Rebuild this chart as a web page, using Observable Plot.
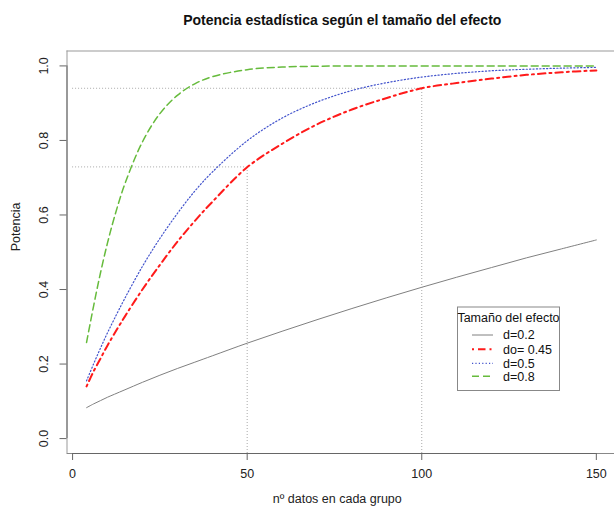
<!DOCTYPE html>
<html><head><meta charset="utf-8">
<script src="https://cdn.jsdelivr.net/npm/d3@7"></script>
<script src="https://cdn.jsdelivr.net/npm/@observablehq/plot@0.6"></script>
<style>
body{margin:0;background:#fff;}
#wrap{position:relative;width:614px;height:506px;overflow:hidden;font-family:"Liberation Sans",Arial,Helvetica,sans-serif;}
#legend{position:absolute;left:0;top:0;}
</style></head><body><div id="wrap"></div>
<script>
// ---- data ----
const nDatos = [4,6,8,10,12,15,20,25,30,35,40,50,60,70,80,90,100,110,120,130,140,150];
const potD02  = [0.083,0.093,0.102,0.111,0.119,0.131,0.151,0.170,0.188,0.205,0.222,0.256,0.288,0.319,0.349,0.378,0.406,0.433,0.459,0.485,0.509,0.533];
const potD045 = [0.140,0.180,0.215,0.250,0.282,0.328,0.400,0.466,0.528,0.584,0.635,0.728,0.791,0.843,0.883,0.914,0.940,0.954,0.966,0.976,0.983,0.988];
const potD05  = [0.155,0.200,0.243,0.284,0.322,0.377,0.462,0.537,0.604,0.664,0.715,0.799,0.860,0.903,0.934,0.955,0.970,0.980,0.987,0.991,0.994,0.996];
const potD08  = [0.258,0.355,0.445,0.525,0.595,0.684,0.796,0.872,0.921,0.952,0.971,0.990,0.997,0.999,1.000,1.000,1.000,1.000,1.000,1.000,1.000,1.000];
const seriesNames = ["d=0.2","do= 0.45","d=0.5","d=0.8"];
const refN = [50, 100];
const refPot = [0.729, 0.940];
const xTicks = [0, 50, 100, 150];
const yTicks = [0, 0.2, 0.4, 0.6, 0.8, 1.0];
const titleText = "Potencia estadística según el tamaño del efecto";
const xLabel = "nº datos en cada grupo";
const yLabel = "Potencia";
const legendTitle = "Tamaño del efecto";

// ---- styles ----
const styles = [
  {stroke:"#808080", strokeWidth:1, dash:null},
  {stroke:"#ff1a1a", strokeWidth:2, dash:"2,4,7.5,4"},
  {stroke:"#4253cc", strokeWidth:1.2, dash:"1.2,2.2"},
  {stroke:"#66bb3c", strokeWidth:1.5, dash:"7,4"}
];
const allPot = [potD02, potD045, potD05, potD08];
const rows = [];
allPot.forEach((arr, si) => arr.forEach((p, i) => rows.push({serie: seriesNames[si], n: nDatos[i], p})));
const refRows = refN.map((n, i) => ({n, p: refPot[i]}));

const xDomain = [-1.6, 155.2];
const yDomain = [-0.04, 1.04];

const lineMarks = seriesNames.map((s, si) => Plot.line(rows.filter(r => r.serie === s), {
  x: "n", y: "p", curve: "catmull-rom",
  stroke: styles[si].stroke, strokeWidth: styles[si].strokeWidth,
  strokeDasharray: styles[si].dash
}));

const chart = Plot.plot({
  width: 614, height: 506,
  marginLeft: 66.5, marginRight: 0, marginTop: 50.5, marginBottom: 53,
  style: {fontFamily: '"Liberation Sans", Arial, Helvetica, sans-serif', background: "#fff", overflow: "visible"},
  x: {domain: xDomain, axis: null},
  y: {domain: yDomain, axis: null},
  marks: [
    // reference dotted lines
    Plot.ruleY(refRows, {y: "p", x1: 0, x2: "n", stroke: "#aaaaaa", strokeDasharray: "1,2", strokeWidth: 1}),
    Plot.ruleX(refRows, {x: "n", y1: yDomain[0], y2: "p", stroke: "#aaaaaa", strokeDasharray: "1,2", strokeWidth: 1}),
    // box (top, left, bottom)
    Plot.ruleY([yDomain[1]], {stroke: "#999", strokeWidth: 1}),
    Plot.ruleY([yDomain[0]], {stroke: "#888", strokeWidth: 1}),
    Plot.ruleX([xDomain[0]], {stroke: "#999", strokeWidth: 1}),
    // axis lines between first and last tick
    Plot.ruleX([xDomain[0]], {y1: yTicks[0], y2: yTicks[yTicks.length-1], stroke: "#666", strokeWidth: 1}),
    Plot.ruleY([yDomain[0]], {x1: xTicks[0], x2: xTicks[xTicks.length-1], stroke: "#666", strokeWidth: 1}),
    // ticks
    Plot.axisY(yTicks, {tickSize: 7, tickFormat: () => "", stroke: "#666", label: null}),
    Plot.axisX(xTicks, {tickSize: 7, tickFormat: () => "", stroke: "#666", label: null}),
    // tick labels
    Plot.text(yTicks, {y: d => d, text: d => d.toFixed(1), frameAnchor: "left", dx: -23, rotate: -90, textAnchor: "middle", lineAnchor: "middle", fontSize: 12.5, fill: "#222"}),
    Plot.text(xTicks, {x: d => d, text: d => String(d), frameAnchor: "bottom", dy: 20, textAnchor: "middle", lineAnchor: "middle", fontSize: 12.5, fill: "#222"}),
    // curves
    ...lineMarks,
    // titles
    Plot.text([titleText], {frameAnchor: "top", dx: 1.5, dy: -30, fontSize: 14, fontWeight: "bold", fill: "#111", lineAnchor: "middle"}),
    Plot.text([xLabel], {frameAnchor: "bottom", dx: -3.5, dy: 45.5, fontSize: 12.5, fill: "#222", lineAnchor: "middle"}),
    Plot.text([yLabel], {frameAnchor: "left", dx: -51, dy: -1, rotate: -90, fontSize: 12.5, fill: "#222", lineAnchor: "middle"})
  ]
});
const wrap = document.getElementById("wrap");
wrap.appendChild(chart);

// ---- legend (overlay) ----
const L = {x: 457, y: 306.5, w: 102, h: 83.5};
const lg = d3.select(wrap).append("svg").attr("id", "legend")
  .attr("width", 614).attr("height", 506)
  .style("font-family", '"Liberation Sans", Arial, Helvetica, sans-serif');
lg.append("rect").attr("x", L.x + 0.5).attr("y", L.y + 0.5).attr("width", L.w).attr("height", L.h)
  .attr("fill", "#fff").attr("stroke", "#888");
lg.append("text").attr("x", L.x + L.w / 2 + 0.5).attr("y", L.y + 11).attr("dy", "0.35em")
  .attr("text-anchor", "middle").attr("font-size", 12.5).attr("fill", "#111").text(legendTitle);
const rowY = [28.5, 42.8, 56.8, 69.8];
seriesNames.forEach((s, i) => {
  const y = L.y + rowY[i];
  lg.append("line").attr("x1", L.x + 15).attr("x2", L.x + 36).attr("y1", y).attr("y2", y)
    .attr("stroke", styles[i].stroke).attr("stroke-width", styles[i].strokeWidth)
    .attr("stroke-dasharray", styles[i].dash);
  lg.append("text").attr("x", L.x + 46).attr("y", y).attr("dy", "0.35em")
    .attr("font-size", 12.5).attr("fill", "#111").text(s);
});
</script>
</body></html>
